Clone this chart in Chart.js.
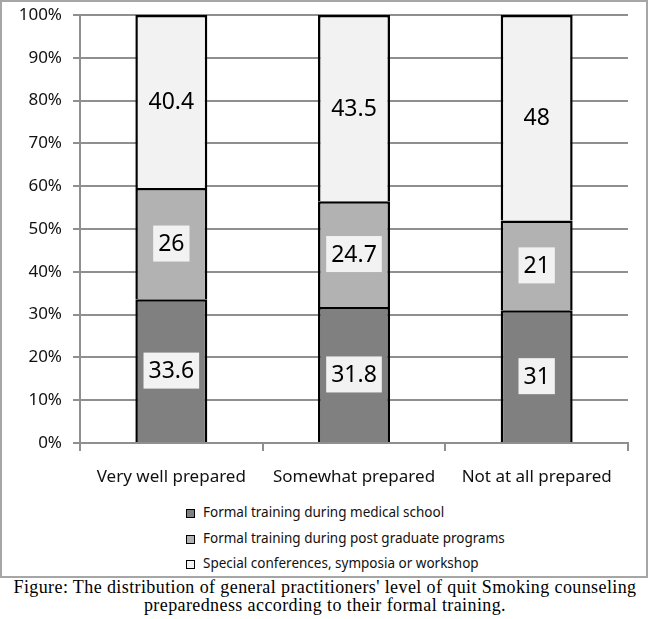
<!DOCTYPE html>
<html>
<head>
<meta charset="utf-8">
<script src="https://cdn.jsdelivr.net/npm/chart.js@4.4.1/dist/chart.umd.min.js"></script>
<style>
  body { margin: 0; background: #fff; width: 650px; height: 619px; position: relative; overflow: hidden; }
  #frame { position: absolute; left: 0; top: 0; width: 644px; height: 574px; border: 2px solid #a6a6a6; }
  #chartBox { position: absolute; left: 3px; top: 3px; width: 640px; height: 495px; }
  #legend { position: absolute; left: 186px; top: 500px; margin: 0; padding: 0; list-style: none;
            font-family: "Noto Sans", sans-serif; font-size: 13.5px; color: #111; }
  #legend li { height: 25.5px; line-height: 25.5px; white-space: nowrap; }
  #legend span.box { display: inline-block; width: 7px; height: 7px; border: 1.5px solid #000;
                     margin-right: 8px; vertical-align: -1px; }
  #caption { position: absolute; left: 0; top: 578px; width: 650px; text-align: center;
             font-family: "Liberation Serif", serif; font-size: 18px; letter-spacing: 0.4px;
             line-height: 18px; color: #000; }
</style>
</head>
<body>
<div id="frame"></div>
<div id="chartBox"><canvas id="myChart"></canvas></div>
<ul id="legend"></ul>
<div id="caption">Figure: The distribution of general practitioners' level of quit Smoking counseling<br>preparedness according to their formal training.</div>
<script>
/* categories and values (percent) */
let labels = ['Very well prepared', 'Somewhat prepared', 'Not at all prepared'];
let seriesNames = [
    'Formal training during medical school',
    'Formal training during post graduate programs',
    'Special conferences, symposia or workshop'
];
let medicalSchool = [33.6, 31.8, 31];
let postGraduate = [26, 24.7, 21];
let conferences = [40.4, 43.5, 48];
let yTicks = [0, 10, 20, 30, 40, 50, 60, 70, 80, 90, 100];

let colors = ['#808080', '#b2b2b2', '#f2f2f2'];
let gridColor = '#8f8f8f';

let data = {
    labels: labels,
    datasets: [medicalSchool, postGraduate, conferences].map((values, i) => ({
        label: seriesNames[i],
        data: values,
        backgroundColor: colors[i],
        borderColor: '#000',
        borderWidth: 2.5,
        borderSkipped: 'bottom',
        inflateAmount: 0,
        categoryPercentage: 1,
        barPercentage: 0.394
    }))
};

/* value labels in the middle of each segment, boxed on the darker two */
let valueLabels = {
    id: 'valueLabels',
    afterDatasetsDraw(chart) {
        let ctx = chart.ctx;
        ctx.save();
        ctx.font = '23px "Noto Sans"';
        ctx.textAlign = 'center';
        ctx.textBaseline = 'middle';
        chart.data.datasets.forEach((ds, i) => {
            chart.getDatasetMeta(i).data.forEach((bar, j) => {
                let text = String(ds.data[j]);
                let cx = bar.x;
                let cy = (bar.y + bar.base) / 2;
                if (i < 2) {
                    let w = ctx.measureText(text).width + 10;
                    let h = 36;
                    ctx.fillStyle = '#f2f2f2';
                    ctx.fillRect(cx - w / 2, cy - h / 2, w, h);
                }
                ctx.fillStyle = '#000';
                ctx.fillText(text, cx, cy + 1);
            });
        });
        ctx.restore();
    }
};

let config = {
    type: 'bar',
    data: data,
    options: {
        responsive: true,
        maintainAspectRatio: false,
        animation: false,
        layout: { padding: { top: 12, right: 15, left: 0, bottom: 0 } },
        plugins: {
            legend: { display: false },
            tooltip: { enabled: false }
        },
        scales: {
            x: {
                stacked: true,
                grid: { drawOnChartArea: false, color: gridColor, lineWidth: 2, tickLength: 8 },
                border: { color: gridColor, width: 2 },
                ticks: {
                    color: '#111',
                    padding: 16,
                    font: { family: 'Noto Sans', size: 17 }
                },
                afterFit: s => { s.height = 55; s.paddingLeft = 0; s.paddingRight = 0; }
            },
            y: {
                stacked: true,
                min: 0,
                max: 100,
                afterBuildTicks: s => { s.ticks = yTicks.map(v => ({ value: v })); },
                grid: { color: gridColor, lineWidth: 2, tickLength: 7 },
                border: { color: gridColor, width: 2 },
                ticks: {
                    color: '#111',
                    padding: 11,
                    font: { family: 'Noto Sans', size: 17 },
                    callback: v => v + '%'
                },
                afterFit: s => { s.width = 77; s.paddingTop = 0; s.paddingBottom = 0; }
            }
        }
    },
    plugins: [valueLabels]
};

let myChart = new Chart(document.getElementById('myChart').getContext('2d'), config);

/* legend as a plain list, one series per row */
let legendHTML = '';
for (let i = 0; i < seriesNames.length; i++) {
    legendHTML += `<li><span class="box" style="background:${colors[i]}"></span>${seriesNames[i]}</li>`;
}
document.getElementById('legend').innerHTML = legendHTML;
</script>
</body>
</html>
